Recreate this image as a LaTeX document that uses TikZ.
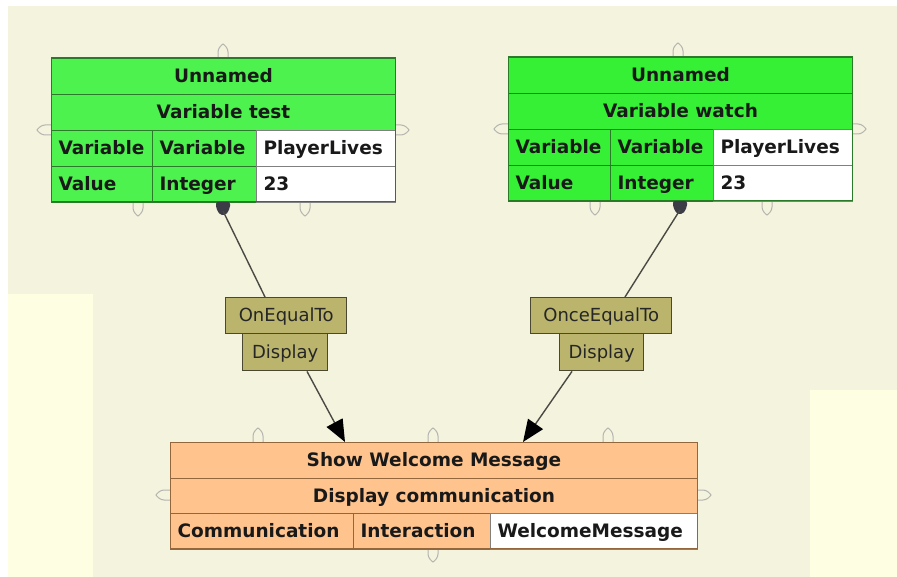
\documentclass[tikz,border=0pt]{standalone}
\usepackage{fontspec}
\setmainfont{DejaVu Sans}
\usetikzlibrary{arrows.meta,calc}
\definecolor{bgbeige}{HTML}{F4F3DE}
\definecolor{bgyellow}{HTML}{FEFEE2}
\definecolor{greenA}{HTML}{4EF24E}
\definecolor{greenB}{HTML}{36F036}
\definecolor{greenline}{HTML}{2A7A2A}
\definecolor{peach}{HTML}{FFC48E}
\definecolor{peachline}{HTML}{94663C}
\definecolor{olive}{HTML}{BAB46C}
\definecolor{oliveline}{HTML}{4A4830}
\definecolor{nubgray}{HTML}{B4B4B0}
\definecolor{knobdark}{HTML}{3C3C46}
\definecolor{connline}{HTML}{4A4A44}
\tikzset{
  cellbase/.style={draw, line width=1pt, anchor=north west, inner ysep=0pt,
    text height=13.5pt, text depth=0.5pt,
    font=\bfseries\fontsize{18.5}{20}\selectfont, text=black!90},
  headcell/.style={cellbase, inner xsep=0pt},
  leftcell/.style={cellbase, inner xsep=7pt, align=left},
  labelbox/.style={draw=oliveline, fill=olive, line width=1.4pt, anchor=north west,
    inner sep=0pt, minimum height=36pt, text height=13pt, text depth=1pt,
    font=\fontsize{18}{20}\selectfont, text=black!85},
  conn/.style={draw=connline, line width=1.4pt},
  nub/.pic={\draw[draw=nubgray, fill=bgbeige, line width=1pt]
    (-5,0) -- (-5,-6) .. controls (-5,-10) and (-1.5,-13) .. (0,-14)
    .. controls (1.5,-13) and (5,-10) .. (5,-6) -- (5,0);},
  knob/.pic={\fill[knobdark, rounded corners=2pt]
    (-7,0) -- (-7,6) -- (-3,13) -- (3,13) -- (7,6) -- (7,0) -- cycle;}
}
\begin{document}
\begin{tikzpicture}[x=1pt,y=-1pt]
\useasboundingbox (0,0) rectangle (897,577);
% background
\fill[white] (0,0) rectangle (897,577);
\fill[bgbeige] (8,6) rectangle (897,577);
\fill[bgyellow] (8,294) rectangle (93,577);
\fill[bgyellow] (810,390) rectangle (897,577);

% nubs around left table
\pic at (223,58) {nub};
\pic[rotate=90] at (51,130) {nub};
\pic[rotate=-90] at (395,130) {nub};
\pic[rotate=180] at (138,202) {nub};
\pic[rotate=180] at (305,202) {nub};
% nubs around right table
\pic at (678,57) {nub};
\pic[rotate=90] at (508,129) {nub};
\pic[rotate=-90] at (852,129) {nub};
\pic[rotate=180] at (595,201) {nub};
\pic[rotate=180] at (767,201) {nub};
% nubs around bottom table
\pic at (258,442) {nub};
\pic at (433,442) {nub};
\pic at (608,442) {nub};
\pic[rotate=90] at (170,495) {nub};
\pic[rotate=-90] at (697,495) {nub};
\pic[rotate=180] at (433,548) {nub};

% left table
\node[headcell, fill=greenA, draw=greenline, minimum width=344pt, minimum height=36pt] (lh1) at (51,58) {Unnamed};
\node[headcell, fill=greenA, draw=greenline, minimum width=344pt, minimum height=36pt] (lh2) at (51,94) {Variable test};
\node[leftcell, fill=greenA, draw=greenline, text width=87pt, minimum height=36pt] (l11) at (51,130) {Variable};
\node[leftcell, fill=greenA, draw=greenline, text width=90pt, minimum height=36pt] (l12) at (152,130) {Variable};
\node[leftcell, fill=white, draw=gray, text width=125pt, minimum height=36pt] (l13) at (256,130) {PlayerLives};
\node[leftcell, fill=greenA, draw=greenline, text width=87pt, minimum height=36pt] (l21) at (51,166) {Value};
\node[leftcell, fill=greenA, draw=greenline, text width=90pt, minimum height=36pt] (l22) at (152,166) {Integer};
\node[leftcell, fill=white, draw=gray, text width=125pt, minimum height=36pt] (l23) at (256,166) {23};
\draw[greenline, line width=1pt] (51,58) rectangle (395,202);

% right table
\node[headcell, fill=greenB, draw=greenline, minimum width=344pt, minimum height=36pt] (rh1) at (508,57) {Unnamed};
\node[headcell, fill=greenB, draw=greenline, minimum width=344pt, minimum height=36pt] (rh2) at (508,93) {Variable watch};
\node[leftcell, fill=greenB, draw=greenline, text width=88pt, minimum height=36pt] (r11) at (508,129) {Variable};
\node[leftcell, fill=greenB, draw=greenline, text width=89pt, minimum height=36pt] (r12) at (610,129) {Variable};
\node[leftcell, fill=white, draw=gray, text width=125pt, minimum height=36pt] (r13) at (713,129) {PlayerLives};
\node[leftcell, fill=greenB, draw=greenline, text width=88pt, minimum height=36pt] (r21) at (508,165) {Value};
\node[leftcell, fill=greenB, draw=greenline, text width=89pt, minimum height=36pt] (r22) at (610,165) {Integer};
\node[leftcell, fill=white, draw=gray, text width=125pt, minimum height=36pt] (r23) at (713,165) {23};
\draw[greenline, line width=1pt] (508,57) rectangle (852,201);

% bottom table
\node[headcell, fill=peach, draw=peachline, minimum width=527pt, minimum height=35.5pt] (show) at (170,442) {Show Welcome Message};
\node[headcell, fill=peach, draw=peachline, minimum width=527pt, minimum height=35.5pt] (disp) at (170,477.5) {Display communication};
\node[leftcell, fill=peach, draw=peachline, text width=169pt, minimum height=35.5pt] (b1) at (170,513) {Communication};
\node[leftcell, fill=peach, draw=peachline, text width=123pt, minimum height=35.5pt] (b2) at (353,513) {Interaction};
\node[leftcell, fill=white, draw=gray, text width=193pt, minimum height=35.5pt] (b3) at (490,513) {WelcomeMessage};
\draw[peachline, line width=1pt] (170,442) rectangle (697,548.5);

% knobs (outputs of the two variable blocks)
\pic at (223,202) {knob};
\pic at (680,201) {knob};
\coordinate (kL) at (223,211);
\coordinate (kR) at (680,210);

% labels
\node[labelbox, minimum width=121pt] (oeL) at (225,297) {OnEqualTo};
\node[labelbox, minimum width=85pt, minimum height=37pt] (dL) at (242,333) {Display};
\node[labelbox, minimum width=141pt] (oeR) at (530,297) {OnceEqualTo};
\node[labelbox, minimum width=84pt, minimum height=37pt] (dR) at (559,333) {Display};

% connectors
\draw[conn] (kL) -- ($(oeL.north west)+(40,0)$);
\draw[conn] (kR) -- ($(oeR.north west)+(95,0)$);
\draw[conn, -{Triangle[length=22pt,width=18pt,fill=black,color=black]}] ($(dL.south west)+(65,0)$) -- ($(show.north west)+(175,0)$);
\draw[conn, -{Triangle[length=22pt,width=18pt,fill=black,color=black]}] ($(dR.south west)+(13,0)$) -- ($(show.north west)+(353,0)$);
\end{tikzpicture}
\end{document}
